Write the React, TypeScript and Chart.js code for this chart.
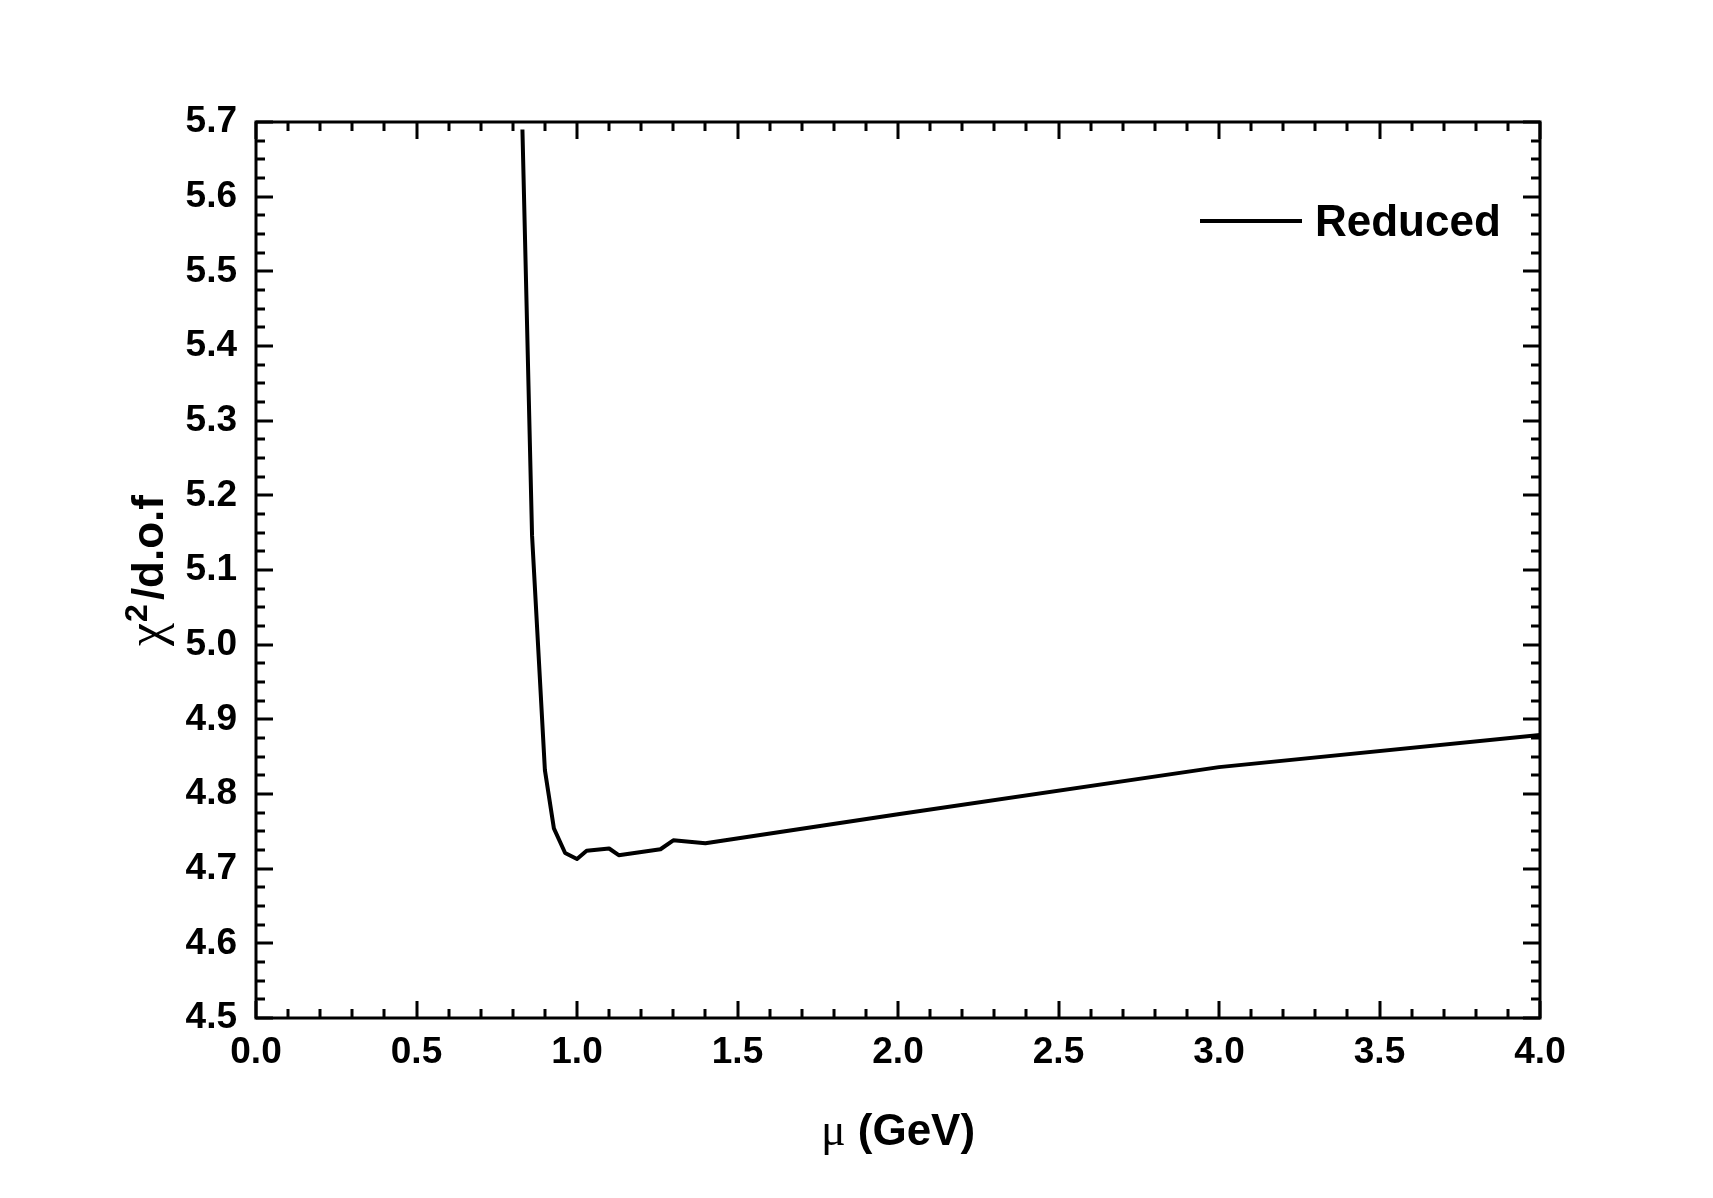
import React, { useEffect, useRef } from "react";
import { Chart, registerables } from "chart.js";

Chart.register(...registerables);

// Renormalisation scale mu (GeV) and the reduced chi^2 per degree of freedom
const muValues = [0.83, 0.86, 0.9, 0.928, 0.963, 1.0, 1.03, 1.1, 1.13, 1.26, 1.3, 1.4, 2.0, 3.0, 4.0];
const chi2Values = [5.69, 5.146, 4.832, 4.754, 4.721, 4.713, 4.724, 4.727, 4.718, 4.726, 4.738, 4.734, 4.773, 4.836, 4.879];
const seriesLabel = "Reduced";

const xTickValues = [0.0, 0.5, 1.0, 1.5, 2.0, 2.5, 3.0, 3.5, 4.0];
const yTickValues = [4.5, 4.6, 4.7, 4.8, 4.9, 5.0, 5.1, 5.2, 5.3, 5.4, 5.5, 5.6, 5.7];
const xMinorStep = 0.1;
const yMinorStep = 0.025;

const SANS = '"Liberation Sans", Arial, Helvetica, sans-serif';
const SERIF = '"Liberation Serif", "Times New Roman", serif';

// Frame, inward major/minor ticks on all four sides, legend and axis titles
const framePlugin = {
  id: "frame",
  afterDraw(chart: any) {
    const { ctx, chartArea } = chart;
    const { left, right, top, bottom } = chartArea;
    const xs = chart.scales.x;
    const ys = chart.scales.y;
    ctx.save();
    ctx.strokeStyle = "#000";
    ctx.lineWidth = 3;
    ctx.lineCap = "butt";

    const majorLen = 17;
    const minorLen = 9;

    // x ticks (bottom and top)
    const xMin = xs.min;
    const xMax = xs.max;
    const nx = Math.round((xMax - xMin) / xMinorStep);
    for (let i = 0; i <= nx; i++) {
      const v = xMin + i * xMinorStep;
      const isMajor = xTickValues.some((t) => Math.abs(t - v) < 1e-6);
      const len = isMajor ? majorLen : minorLen;
      const px = Math.round(xs.getPixelForValue(v));
      ctx.beginPath();
      ctx.moveTo(px, bottom);
      ctx.lineTo(px, bottom - len);
      ctx.moveTo(px, top);
      ctx.lineTo(px, top + len);
      ctx.stroke();
    }
    // y ticks (left and right)
    const yMin = ys.min;
    const yMax = ys.max;
    const ny = Math.round((yMax - yMin) / yMinorStep);
    for (let i = 0; i <= ny; i++) {
      const v = yMin + i * yMinorStep;
      const isMajor = yTickValues.some((t) => Math.abs(t - v) < 1e-6);
      const len = isMajor ? majorLen : minorLen;
      const py = Math.round(ys.getPixelForValue(v));
      ctx.beginPath();
      ctx.moveTo(left, py);
      ctx.lineTo(left + len, py);
      ctx.moveTo(right, py);
      ctx.lineTo(right - len, py);
      ctx.stroke();
    }
    // frame
    ctx.lineWidth = 3;
    ctx.strokeRect(left, top, right - left, bottom - top);

    // legend
    const ds = chart.data.datasets[0];
    ctx.lineWidth = 4;
    ctx.beginPath();
    ctx.moveTo(right - 340, top + 99);
    ctx.lineTo(right - 238, top + 99);
    ctx.stroke();
    ctx.fillStyle = "#000";
    ctx.font = `bold 44px ${SANS}`;
    ctx.textAlign = "left";
    ctx.textBaseline = "alphabetic";
    ctx.fillText(ds.label, right - 225, top + 114);

    // x axis title: mu (GeV)
    const cx = (left + right) / 2;
    const xBase = 1145;
    ctx.font = `46px ${SERIF}`;
    const muText = "\u03bc";
    const muW = ctx.measureText(muText).width;
    ctx.font = `bold 44px ${SANS}`;
    const restText = " (GeV)";
    const restW = ctx.measureText(restText).width;
    const startX = cx - (muW + restW) / 2;
    ctx.font = `46px ${SERIF}`;
    ctx.fillText(muText, startX, xBase);
    ctx.font = `bold 44px ${SANS}`;
    ctx.fillText(restText, startX + muW, xBase);

    // y axis title: chi^2/d.o.f, rotated
    const cy = (top + bottom) / 2;
    ctx.translate(163, cy + 1);
    ctx.rotate(-Math.PI / 2);
    ctx.font = `52px ${SERIF}`;
    const chiW = ctx.measureText("\u03c7").width;
    ctx.font = `bold 32px ${SANS}`;
    const supW = ctx.measureText("2").width;
    ctx.font = `bold 44px ${SANS}`;
    const tailW = ctx.measureText("/d.o.f").width;
    const gap = 4;
    let sx = -(chiW + supW + gap + tailW) / 2;
    ctx.font = `52px ${SERIF}`;
    ctx.fillText("\u03c7", sx, 0);
    sx += chiW + 1;
    ctx.font = `bold 32px ${SANS}`;
    ctx.fillText("2", sx, -16);
    sx += supW + gap;
    ctx.font = `bold 44px ${SANS}`;
    ctx.fillText("/d.o.f", sx, 0);
    ctx.restore();
  },
};

export default function App() {
  const canvasRef = useRef<HTMLCanvasElement | null>(null);

  useEffect(() => {
    const canvas = canvasRef.current;
    if (!canvas) return;
    const points = muValues.map((x, i) => ({ x, y: chi2Values[i] }));
    const chart = new Chart(canvas, {
      type: "line",
      data: {
        datasets: [
          {
            label: seriesLabel,
            data: points,
            borderColor: "#000",
            borderWidth: 4,
            pointRadius: 0,
            tension: 0,
            fill: false,
            borderJoinStyle: "round",
          } as any,
        ],
      },
      options: {
        animation: false,
        responsive: true,
        maintainAspectRatio: false,
        layout: { padding: { top: 122, right: 173, left: 0, bottom: 0 } },
        plugins: {
          legend: { display: false },
          tooltip: { enabled: false },
          title: { display: false },
        },
        scales: {
          x: {
            type: "linear",
            min: 0,
            max: 4,
            grid: { display: false, drawTicks: false },
            border: { display: false },
            ticks: {
              color: "#000",
              padding: 13,
              font: { family: SANS, size: 37, weight: "bold" },
              callback: (v: any) => Number(v).toFixed(1),
            },
            afterBuildTicks: (scale: any) => {
              scale.ticks = xTickValues.map((v) => ({ value: v }));
            },
            afterFit: (scale: any) => {
              scale.height = 180;
            },
          },
          y: {
            type: "linear",
            min: 4.5,
            max: 5.7,
            grid: { display: false, drawTicks: false },
            border: { display: false },
            ticks: {
              color: "#000",
              padding: 19,
              font: { family: SANS, size: 37, weight: "bold" },
              callback: (v: any) => Number(v).toFixed(1),
            },
            afterBuildTicks: (scale: any) => {
              scale.ticks = yTickValues.map((v) => ({ value: v }));
            },
            afterFit: (scale: any) => {
              scale.width = 256;
            },
          },
        },
      } as any,
      plugins: [framePlugin],
    });
    return () => chart.destroy();
  }, []);

  return (
    <div style={{ position: "absolute", left: 0, top: 0, width: 1713, height: 1198, background: "#fff" }}>
      <canvas ref={canvasRef} />
    </div>
  );
}
